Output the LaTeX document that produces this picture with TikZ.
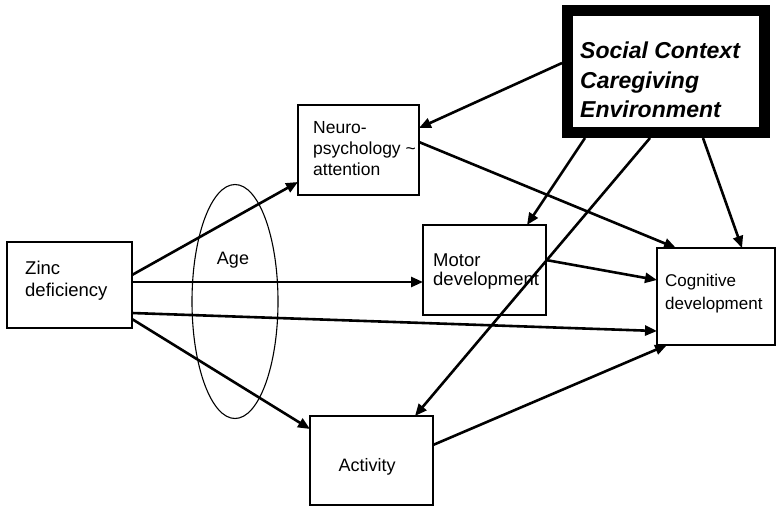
\documentclass[tikz,border=0pt]{standalone}
\usepackage{fontspec}
\setmainfont{Liberation Sans}
\usetikzlibrary{arrows.meta,calc,shapes.geometric}
\begin{document}
\begin{tikzpicture}[x=1pt,y=-1pt,
 box/.style={draw, line width=1.4pt, fill=white, inner sep=0pt, outer sep=0pt},
 lbl/.style={font=\fontsize{18}{21}\selectfont, align=left, inner sep=0pt, anchor=west},
 arr/.style={line width=2.6pt, -{Triangle[length=12pt,width=10pt]}},
]
\useasboundingbox[fill=white] (0,0) rectangle (777,507);
% boxes
\node[box, minimum width=125pt, minimum height=86pt] (zinc) at (69.5,285) {};
\node[box, minimum width=121pt, minimum height=90pt] (neuro) at (358.5,150) {};
\node[box, minimum width=123pt, minimum height=90pt] (motor) at (484.5,270) {};
\node[box, minimum width=118pt, minimum height=97pt] (cog) at (716,296.5) {};
\node[box, minimum width=123pt, minimum height=89pt] (activity) at (371.5,460.5) {};
\node[draw, line width=11pt, fill=white, inner sep=0pt, minimum width=197pt, minimum height=122pt] (social) at (666,71.5) {};
% age ellipse
\node[draw, ellipse, line width=1.1pt, inner sep=0pt, minimum width=86pt, minimum height=234pt] (ageell) at (235,301.5) {};
% texts
\node[lbl, font=\fontsize{18.5}{22}\selectfont] (zinct) at (25,281) {Zinc\\deficiency};
\node[lbl, font=\fontsize{17.5}{21}\selectfont] (neurot) at (313,149) {Neuro-\\psychology \textasciitilde\\attention};
\node[lbl, font=\fontsize{18.5}{19}\selectfont] (motort) at (433,272) {Motor\\development};
\node[lbl, font=\fontsize{17}{23}\selectfont] (cogt) at (665,293.5) {Cognitive\\development};
\node[font=\fontsize{18}{21}\selectfont, inner sep=0pt] (actt) at (367,467) {Activity};
\node[font=\fontsize{18}{21}\selectfont, inner sep=0pt] (aget) at (233,260) {Age};
\node[lbl, font=\fontsize{23}{29.5}\selectfont\bfseries\itshape] (socialt) at (580,80) {Social Context\\Caregiving\\Environment};
% arrows
\draw[arr] (zinc.east |- 0,275) -- (neuro.west |- 0,182);
\draw[arr] (zinc.east |- 0,282) -- (motor.west |- 0,282);
\draw[arr] (zinc.east |- 0,313) -- (cog.west |- 0,331);
\draw[arr] (zinc.east |- 0,319) -- (activity.west |- 0,429);
\draw[arr] (neuro.east |- 0,142) -- (cog.north -| 676,0);
\draw[arr] (motor.east |- 0,260) -- (cog.west |- 0,280);
\draw[arr] (activity.east |- 0,445) -- (cog.south -| 667,0);
\draw[arr] (social.west |- 0,63) -- (neuro.east |- 0,128);
\draw[arr] (social.south -| 585,0) -- (motor.north -| 527,0);
\draw[arr] (social.south -| 650,0) -- (activity.north -| 415,0);
\draw[arr] (social.south -| 703,0) -- (cog.north -| 742,0);
\end{tikzpicture}
\end{document}
